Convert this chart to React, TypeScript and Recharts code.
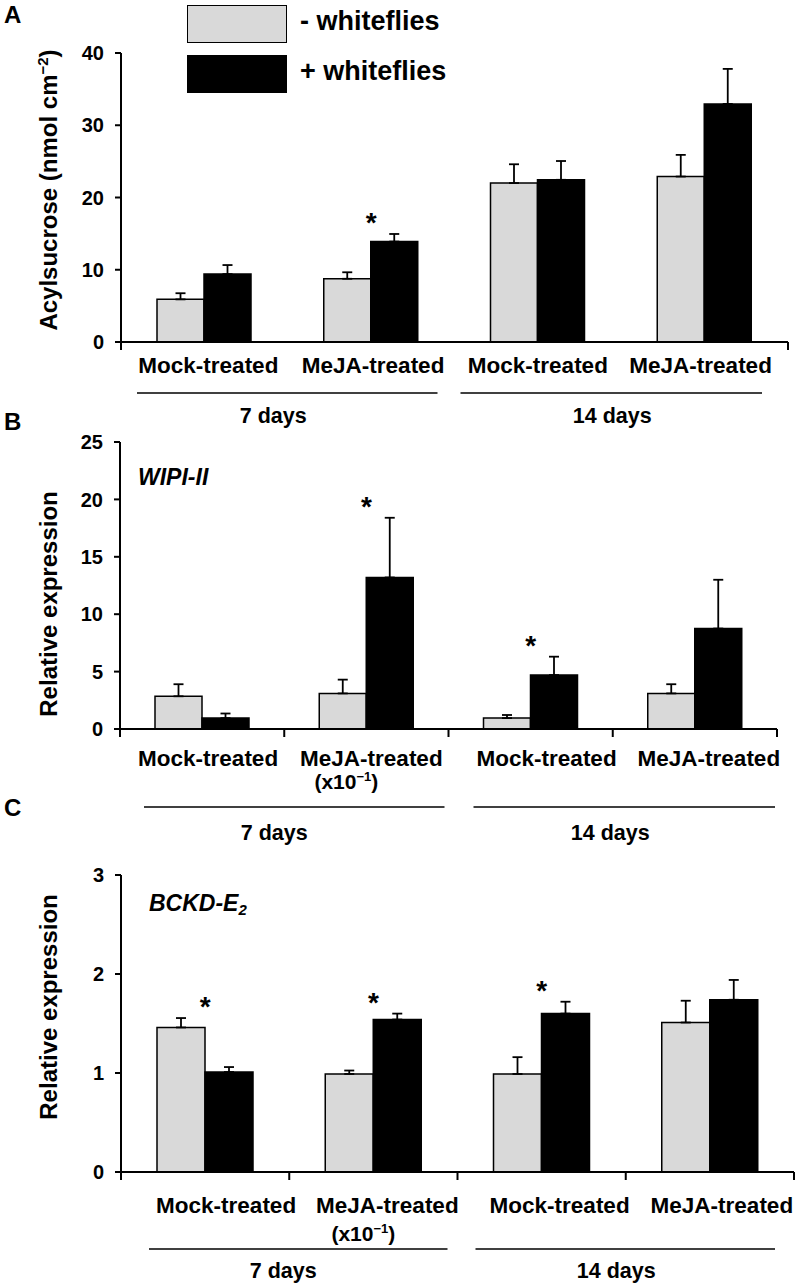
import React from "react";
import { Bar, ComposedChart, ErrorBar, Legend, Scatter, XAxis, YAxis } from "recharts";

const FONT = "'Liberation Sans', Arial, Helvetica, sans-serif";

const categories = ["Mock-treated", "MeJA-treated", "Mock-treated", "MeJA-treated"];
const periods = ["7 days", "14 days"];
const seriesNames = ["- whiteflies", "+ whiteflies"];

// A - acylsucrose (nmol cm-2)
const acylMinus = [5.9, 8.75, 22.0, 22.9];
const acylMinusErr = [0.85, 0.9, 2.6, 3.0];
const acylPlus = [9.4, 13.9, 22.45, 32.95];
const acylPlusErr = [1.25, 1.05, 2.6, 4.85];
const acylStars = [false, true, false, false];
const acylTicks = [0, 10, 20, 30, 40];

// B - WIPI-II relative expression
const wipiMinus = [2.85, 3.1, 0.95, 3.1];
const wipiMinusErr = [1.05, 1.2, 0.27, 0.8];
const wipiPlus = [0.95, 13.2, 4.7, 8.75];
const wipiPlusErr = [0.4, 5.2, 1.6, 4.25];
const wipiStars = [false, true, true, false];
const wipiTicks = [0, 5, 10, 15, 20, 25];

// C - BCKD-E2 relative expression
const bckdMinus = [1.46, 0.99, 0.99, 1.51];
const bckdMinusErr = [0.095, 0.035, 0.17, 0.22];
const bckdPlus = [1.01, 1.54, 1.6, 1.74];
const bckdPlusErr = [0.05, 0.06, 0.12, 0.2];
const bckdStars = [true, true, true, false];
const bckdTicks = [0, 1, 2, 3];

// scale note under the 7-day MeJA label (panels B and C)
const noNotes = [false, false, false, false];
const scaleNotes = [false, true, false, false];

type Row = {
  cat: string;
  period: string;
  note: boolean;
  minus: number;
  minusErr: number[];
  plus: number;
  plusErr: number[];
  star: boolean;
  starAt: number;
};

function buildRows(
  minus: number[],
  minusErr: number[],
  plus: number[],
  plusErr: number[],
  stars: boolean[],
  notes: boolean[]
): Row[] {
  return categories.map((cat, i) => ({
    cat,
    period: periods[Math.floor(i / 2)],
    note: notes[i],
    minus: minus[i],
    minusErr: [0, minusErr[i]],
    plus: plus[i],
    plusErr: [0, plusErr[i]],
    star: stars[i],
    starAt: Math.max(minus[i] + minusErr[i], plus[i] + plusErr[i]),
  }));
}

const Y_AXIS_W = 60;

type Panel = {
  rows: Row[];
  ticks: number[];
  top: number;
  height: number;
  margin: { top: number; right: number; bottom: number; left: number };
  xAxisHeight: number;
  barSize: number;
  labelShift: number[];
  noteShift: number;
  labelDy: number;
  noteDy: number;
  lineDy: number;
  dayDy: number;
  groupInsets: number[][];
  dayShift: number[];
  endTicksOnly: boolean;
  yLabelCy: number;
  yLabel: React.ReactNode;
};

const panels: Panel[] = [
  {
    rows: buildRows(acylMinus, acylMinusErr, acylPlus, acylPlusErr, acylStars, noNotes),
    ticks: acylTicks,
    top: 0,
    height: 430,
    margin: { top: 53, right: 12, bottom: 0, left: 61 },
    xAxisHeight: 88,
    barSize: 47,
    labelShift: [4, 2, 0, -4],
    noteShift: 0,
    labelDy: 23,
    noteDy: 0,
    lineDy: 51,
    dayDy: 73,
    groupInsets: [[16, 17], [6, 26]],
    dayShift: [-14, 1],
    endTicksOnly: true,
    yLabelCy: 190,
    yLabel: (
      <>
        Acylsucrose (nmol cm
        <tspan dy={-9} fontSize={15}>−2</tspan>
        <tspan dy={9}>)</tspan>
      </>
    ),
  },
  {
    rows: buildRows(wipiMinus, wipiMinusErr, wipiPlus, wipiPlusErr, wipiStars, scaleNotes),
    ticks: wipiTicks,
    top: 430,
    height: 430,
    margin: { top: 12, right: 23, bottom: 0, left: 60 },
    xAxisHeight: 131,
    barSize: 47,
    labelShift: [6, 5, 16, 14],
    noteShift: -20,
    labelDy: 29,
    noteDy: 52,
    lineDy: 78,
    dayDy: 103,
    groupInsets: [[24, 4], [25, 2]],
    dayShift: [-20, -14],
    endTicksOnly: false,
    yLabelCy: 174,
    yLabel: "Relative expression",
  },
  {
    rows: buildRows(bckdMinus, bckdMinusErr, bckdPlus, bckdPlusErr, bckdStars, scaleNotes),
    ticks: bckdTicks,
    top: 860,
    height: 428,
    margin: { top: 15, right: 6, bottom: 0, left: 61 },
    xAxisHeight: 116,
    barSize: 48,
    labelShift: [21, 14, 18, 12],
    noteShift: -10,
    labelDy: 33,
    noteDy: 61,
    lineDy: 77,
    dayDy: 98,
    groupInsets: [[28, 10], [18, 19]],
    dayShift: [-15, -9],
    endTicksOnly: false,
    yLabelCy: 147,
    yLabel: "Relative expression",
  },
];

function makeTick(p: Panel) {
  const plotW = 800 - p.margin.left - Y_AXIS_W - p.margin.right;
  const band = plotW / categories.length;
  return (props: any) => {
    const { x, y, payload } = props;
    const i = payload.index;
    const row = p.rows[i];
    const left = x - band / 2;
    const right = x + band / 2;
    const parts: React.ReactNode[] = [];
    if (!p.endTicksOnly || i === 0) {
      parts.push(<line key="tl" x1={left} x2={left} y1={y} y2={y + 8} stroke="#000" strokeWidth={2} />);
    }
    if (i === categories.length - 1) {
      parts.push(<line key="tr" x1={right} x2={right} y1={y} y2={y + 8} stroke="#000" strokeWidth={2} />);
    }
    parts.push(
      <text key="lab" x={x + p.labelShift[i]} y={y + p.labelDy + 8} textAnchor="middle"
        fontSize={22.5} fontWeight="bold" fontFamily={FONT} fill="#000">
        {row.cat}
      </text>
    );
    if (row.note) {
      parts.push(
        <text key="note" x={x + p.noteShift} y={y + p.noteDy + 8} textAnchor="middle"
          fontSize={21} fontWeight="bold" fontFamily={FONT} fill="#000">
          (x10<tspan dy={-8} fontSize={13}>−1</tspan><tspan dy={8}>)</tspan>
        </text>
      );
    }
    if (i % 2 === 0) {
      const g = i / 2;
      const x1 = left + p.groupInsets[g][0];
      const x2 = x + 1.5 * band - p.groupInsets[g][1];
      parts.push(<line key="grp" x1={x1} x2={x2} y1={y + p.lineDy} y2={y + p.lineDy} stroke="#000" strokeWidth={1.5} />);
      parts.push(
        <text key="day" x={(x1 + x2) / 2 + p.dayShift[g]} y={y + p.dayDy + 8} textAnchor="middle"
          fontSize={21.5} fontWeight="bold" fontFamily={FONT} fill="#000">
          {row.period}
        </text>
      );
    }
    return <g>{parts}</g>;
  };
}

function StarShape(props: any) {
  const { cx, cy, payload } = props;
  if (!payload || !payload.star || !Number.isFinite(cx) || !Number.isFinite(cy)) return <g />;
  return (
    <text x={cx} y={cy - 2} textAnchor="middle" fontSize={28} fontWeight="bold" fontFamily={FONT} fill="#000">
      *
    </text>
  );
}

function LegendBoxes(props: any) {
  const all = props.payload || [];
  const items = ["minus", "plus"]
    .map((k) => all.find((e: any) => e.dataKey === k))
    .filter(Boolean);
  return (
    <div style={{ position: "relative", width: 800, height: 100 }}>
      {items.map((e: any, k: number) => (
        <React.Fragment key={k}>
          <div
            style={{
              position: "absolute",
              left: 187,
              top: 5 + k * 49.5,
              width: 98,
              height: 36,
              background: e.color,
              border: "1.5px solid #000",
            }}
          />
          <div
            style={{
              position: "absolute",
              left: 300,
              top: 5 + k * 49.5 + 1,
              height: 30,
              lineHeight: "30px",
              fontFamily: FONT,
              fontWeight: "bold",
              fontSize: 27,
              color: "#000",
              whiteSpace: "nowrap",
            }}
          >
            {e.value}
          </div>
        </React.Fragment>
      ))}
    </div>
  );
}

function PanelChart({ p, withLegend }: { p: Panel; withLegend: boolean }) {
  return (
    <div style={{ position: "absolute", left: 0, top: p.top }}>
      <ComposedChart width={800} height={p.height} data={p.rows} margin={p.margin} barGap={0} barSize={p.barSize}>
        <XAxis
          dataKey="cat"
          interval={0}
          height={p.xAxisHeight}
          tickLine={false}
          tickSize={0}
          tickMargin={0}
          axisLine={{ stroke: "#000", strokeWidth: 2 }}
          tick={makeTick(p)}
        />
        <YAxis
          width={Y_AXIS_W}
          domain={[0, p.ticks[p.ticks.length - 1]]}
          ticks={p.ticks}
          interval={0}
          allowDataOverflow
          tickSize={6}
          tickMargin={11}
          axisLine={{ stroke: "#000", strokeWidth: 2 }}
          tickLine={{ stroke: "#000", strokeWidth: 2 }}
          tick={{ fontSize: 20, fontWeight: "bold", fill: "#000", fontFamily: FONT }}
          label={{
            content: () => (
              <text
                transform={`translate(57, ${p.yLabelCy}) rotate(-90)`}
                textAnchor="middle"
                fontSize={24}
                fontWeight="bold"
                fontFamily={FONT}
                fill="#000"
              >
                {p.yLabel}
              </text>
            ),
          }}
        />
        {withLegend && (
          <Legend
            layout="horizontal"
            verticalAlign="middle"
            align="center"
            wrapperStyle={{ left: 0, top: 0, width: 800, height: 100 }}
            content={LegendBoxes}
          />
        )}
        <Bar dataKey="minus" name={seriesNames[0]} fill="#d9d9d9" stroke="#000" strokeWidth={1.5} isAnimationActive={false}>
          <ErrorBar dataKey="minusErr" direction="y" width={5} stroke="#000" strokeWidth={1.8} />
        </Bar>
        <Bar dataKey="plus" name={seriesNames[1]} fill="#000000" stroke="#000" strokeWidth={1.5} isAnimationActive={false}>
          <ErrorBar dataKey="plusErr" direction="y" width={5} stroke="#000" strokeWidth={1.8} />
        </Bar>
        <Scatter dataKey="starAt" legendType="none" isAnimationActive={false} shape={StarShape} />
      </ComposedChart>
    </div>
  );
}

const textStyle: React.CSSProperties = {
  position: "absolute",
  fontFamily: FONT,
  fontWeight: "bold",
  color: "#000",
  whiteSpace: "nowrap",
  lineHeight: "26px",
  height: 26,
};

export default function App() {
  return (
    <div style={{ position: "absolute", left: 0, top: 0, width: 800, height: 1288, background: "#fff" }}>
      <PanelChart p={panels[0]} withLegend={true} />
      <PanelChart p={panels[1]} withLegend={false} />
      <PanelChart p={panels[2]} withLegend={false} />
      <div style={{ ...textStyle, left: 4, top: 2, fontSize: 24 }}>A</div>
      <div style={{ ...textStyle, left: 4, top: 409, fontSize: 24 }}>B</div>
      <div style={{ ...textStyle, left: 4, top: 795, fontSize: 24 }}>C</div>
      <div style={{ ...textStyle, left: 138, top: 464, fontSize: 23, fontStyle: "italic" }}>WIPI-II</div>
      <div style={{ ...textStyle, left: 149, top: 890, fontSize: 23, fontStyle: "italic" }}>
        BCKD-E<sub style={{ fontSize: 15, verticalAlign: "-4px" }}>2</sub>
      </div>
    </div>
  );
}
